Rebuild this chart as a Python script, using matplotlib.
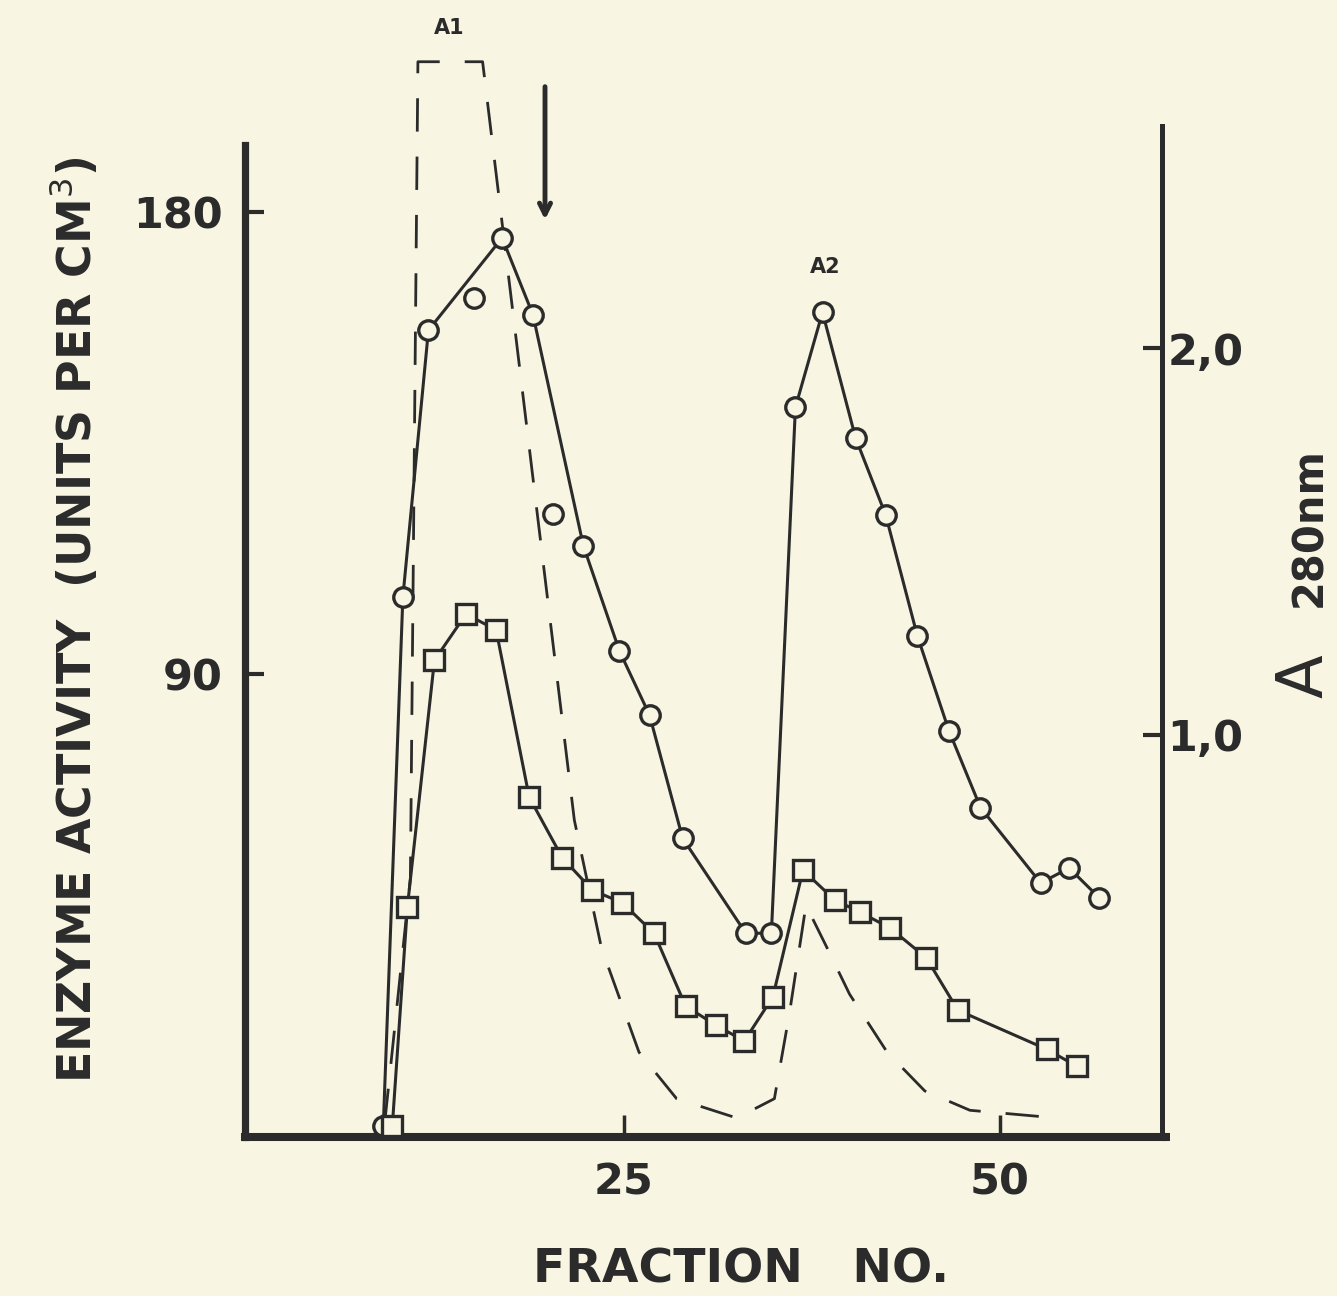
import matplotlib.pyplot as plt
import numpy as np

# circles (solid line), enzyme activity
circ_x = [9.0, 10.3, 12.0, 16.9, 18.95, 22.3, 24.7, 26.7, 28.9, 33.1, 34.8,
          36.4, 38.2, 40.4, 42.4, 44.5, 46.6, 48.7, 52.7, 54.6, 56.6]
circ_y = [2, 105, 157, 175, 160, 115, 94.5, 82, 58, 39.5, 39.5,
          142, 160.5, 136, 121, 97.5, 79, 64, 49.3, 52.2, 46.4]
# stray circles that sit off the line
stray_x = [15.0, 20.3]
stray_y = [163.3, 121.2]

# squares (solid line)
sq_x = [9.6, 10.6, 12.4, 14.5, 16.5, 18.7, 20.9, 22.9, 24.9, 27.0, 29.1,
        31.1, 33.0, 34.9, 36.9, 39.0, 40.7, 42.7, 45.1, 47.2, 53.1, 55.1]
sq_y = [2, 44.6, 92.7, 101.7, 98.6, 66.0, 54.2, 47.9, 45.4, 39.5, 25.3,
        21.6, 18.5, 27.1, 51.8, 46.0, 43.6, 40.5, 34.7, 24.5, 16.9, 13.6]

# dashed line, A280 (right axis)
a_x = [9.1, 10.8, 11.3, 15.6, 21.7, 23.5, 26.0, 28.5, 32.5, 35.0, 36.0,
       37.1, 38.5, 40.0, 42.5, 45.0, 48.0, 53.8]
a_y = [0.0, 0.63, 2.74, 2.74, 0.78, 0.45, 0.18, 0.06, 0.01, 0.06, 0.28,
       0.56, 0.45, 0.33, 0.18, 0.08, 0.03, 0.01]

bg = '#f8f6e2'
ink = '#2b2b2b'

fig = plt.figure(figsize=(13.37, 12.96), dpi=100, facecolor=bg)
ax = fig.add_axes([0.1832, 0.1227, 0.6859, 0.7801])
ax.set_facecolor(bg)
ax2 = ax.twinx()

ax.set_xlim(-0.2, 60.77)
ax.set_ylim(-0.2, 196.8)
ax2.set_ylim(-0.039, 2.574)

ax2.plot(a_x, a_y, color=ink, lw=2, dashes=(12, 9), clip_on=False, zorder=1)

ax.plot(circ_x, circ_y, color=ink, lw=2.2, marker='o', ms=14, mfc=bg, mec=ink, mew=2.4, zorder=3)
ax.plot(stray_x, stray_y, ls='none', marker='o', ms=14, mfc=bg, mec=ink, mew=2.4, zorder=3)
ax.plot(sq_x, sq_y, color=ink, lw=2.2, marker='s', ms=15, mfc=bg, mec=ink, mew=2.4, zorder=3)
ax.set_zorder(ax2.get_zorder() + 1)
ax.patch.set_visible(False)
ax2.patch.set_visible(True)
ax2.patch.set_facecolor(bg)

for s in ['top', 'right']:
    ax.spines[s].set_visible(False)
for s in ['top', 'left', 'bottom']:
    ax2.spines[s].set_visible(False)
ax.spines['left'].set_linewidth(5.2)
ax.spines['bottom'].set_linewidth(5.8)
ax.spines['left'].set_bounds(-0.2, 193)
ax.spines['left'].set_color(ink)
ax.spines['bottom'].set_color(ink)
ax2.spines['right'].set_linewidth(3.6)
ax2.spines['right'].set_color(ink)
# bottom axis runs a little past the right axis
ax.plot([60.77, 61.3], [-0.2, -0.2], color=ink, lw=5.8, solid_capstyle='butt', clip_on=False)

tick_font = {'family': 'DejaVu Sans', 'size': 31, 'weight': 'bold'}
ax.set_xticks([25, 50])
ax.set_xticklabels(['25', '50'], fontdict=tick_font)
ax.set_yticks([90, 180])
ax.set_yticklabels(['90', '180'], fontdict=tick_font)
ax.tick_params(axis='x', direction='in', length=16, width=2.5, pad=18, colors=ink)
ax.tick_params(axis='y', direction='in', length=14, width=3, pad=16, colors=ink)
ax2.set_yticks([1.0, 2.0])
ax2.set_yticklabels(['1,0', '2,0'], fontdict=tick_font)
ax2.tick_params(axis='y', direction='in', length=14, width=3, pad=4, colors=ink)

fig.text(0.554, 0.02, 'FRACTION   NO.', fontsize=34, fontweight='bold', color=ink,
         ha='center', va='center')
fig.text(0.056, 0.522, 'ENZYME ACTIVITY  (UNITS PER CM$^3$)', rotation=90, fontsize=33,
         fontweight='bold', color=ink, ha='center', va='center')

# right axis label A 280nm
fig.text(0.976, 0.478, 'A', rotation=90, fontsize=46, color=ink, ha='center', va='center')
fig.text(0.979, 0.593, '280nm', rotation=90, fontsize=30, color=ink, ha='center', va='center',
         fontweight='bold')

ax.text(13.4, 215.9, 'A1', fontsize=15, fontweight='bold', color=ink, ha='center', va='center', clip_on=False)
ax.text(38.4, 169.3, 'A2', fontsize=15, fontweight='bold', color=ink, ha='center', va='center')

ax.annotate('', xy=(19.75, 178), xytext=(19.75, 205), annotation_clip=False,
            arrowprops=dict(arrowstyle='->,head_length=0.8,head_width=0.4', color=ink, lw=3.5))

fig.savefig('out.png', dpi=100, facecolor=bg)
